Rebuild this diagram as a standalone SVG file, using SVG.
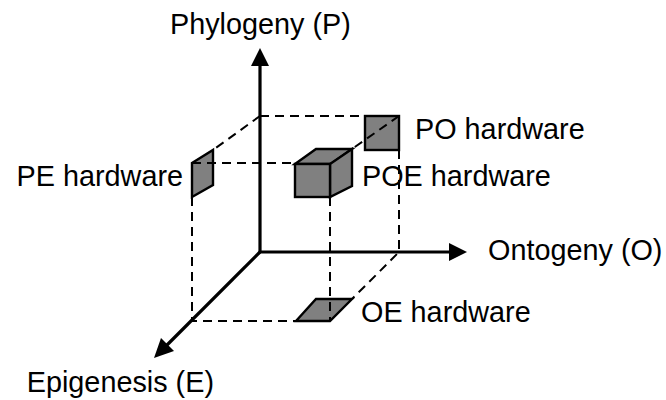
<svg xmlns="http://www.w3.org/2000/svg" width="666" height="400" viewBox="0 0 666 400">
<style>
.axis{stroke:#000;stroke-width:3.2;fill:none}
.dash{stroke:#000;stroke-width:2;fill:none;stroke-dasharray:9 6}
.hw{fill:#808080;stroke:#000;stroke-width:2.4;stroke-linejoin:miter}
.lbl{font-family:"Liberation Sans",Arial,sans-serif;font-size:28.8px;fill:#000}
</style>
<rect width="666" height="400" fill="#fff"/>
<g id="axes">
<line class="axis" x1="260" y1="252" x2="260" y2="62"/>
<polygon points="260,48 251,66 269,66" fill="#000"/>
<line class="axis" x1="260" y1="252" x2="452" y2="252"/>
<polygon points="467,252 449,243 449,261" fill="#000"/>
<line class="axis" x1="260" y1="252" x2="165" y2="347"/>
<polygon points="154,358 161,338 174,351" fill="#000"/>
</g>
<g id="PO">
<rect class="hw" x="365" y="116" width="34" height="34"/>
</g>
<g id="PE">
<polygon class="hw" points="192,163 213,150 213,185 192,197"/>
</g>
<g id="POE">
<polygon class="hw" points="295,164 316,149 352,149 331,164"/>
<polygon class="hw" points="330,164 352,149 352,186 330,197"/>
<rect class="hw" x="295" y="164" width="35" height="33"/>
</g>
<g id="OE">
<polygon class="hw" points="296,321 330,321 352,299 316,299"/>
</g>
<g id="connectors">
<path class="dash" d="M260,116 H399"/>
<path class="dash" d="M260,116 L213,150"/>
<path class="dash" d="M192,163 H295"/>
<path class="dash" d="M192,197 V321 H296"/>
<path class="dash" d="M330,197 V321"/>
<path class="dash" d="M399,116 L352,149"/>
<path class="dash" d="M399,150 V252 L352,299"/>
</g>
<g id="labels">
<text class="lbl" x="170" y="34">Phylogeny (P)</text>
<text class="lbl" x="488" y="260">Ontogeny (O)</text>
<text class="lbl" x="214" y="392" text-anchor="end">Epigenesis (E)</text>
<text class="lbl" x="415" y="139">PO hardware</text>
<text class="lbl" x="362" y="186">POE hardware</text>
<text class="lbl" x="183" y="186" text-anchor="end">PE hardware</text>
<text class="lbl" x="361" y="322">OE hardware</text>
</g>
</svg>
